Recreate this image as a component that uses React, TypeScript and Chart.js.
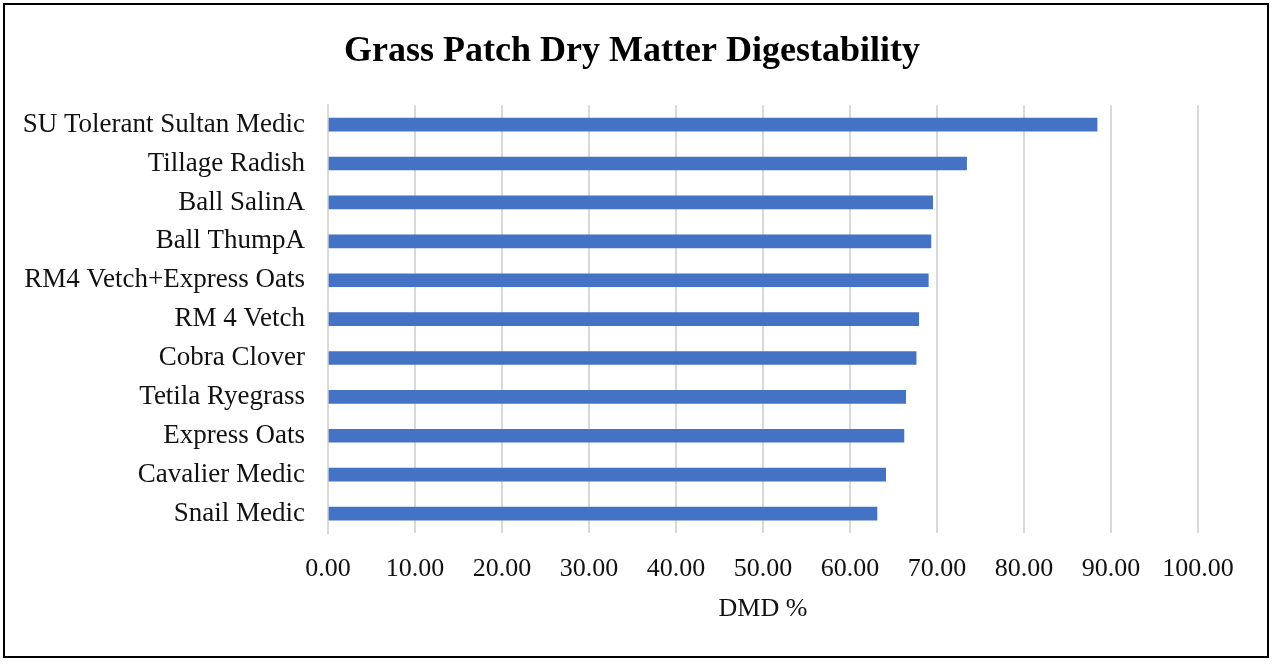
import React, { useEffect, useRef } from "react";
import { Chart, registerables } from "chart.js";

Chart.register(...registerables);

const categories = [
  "SU Tolerant Sultan Medic",
  "Tillage Radish",
  "Ball SalinA",
  "Ball ThumpA",
  "RM4 Vetch+Express Oats",
  "RM 4 Vetch",
  "Cobra Clover",
  "Tetila Ryegrass",
  "Express Oats",
  "Cavalier Medic",
  "Snail Medic",
];

const dmdValues = [88.4, 73.4, 69.5, 69.3, 69.0, 67.9, 67.6, 66.4, 66.2, 64.1, 63.1];

const chartTitle = "Grass Patch Dry Matter Digestability";
const xAxisTitle = "DMD %";

export default function App() {
  const canvasRef = useRef<HTMLCanvasElement | null>(null);

  useEffect(() => {
    document.body.style.margin = "0";
    const canvas = canvasRef.current;
    if (!canvas) return;
    const serif = "'Liberation Serif', 'Times New Roman', serif";
    const chart = new Chart(canvas, {
      type: "bar",
      data: {
        labels: categories,
        datasets: [
          {
            label: xAxisTitle,
            data: dmdValues,
            backgroundColor: "#4472C4",
            borderWidth: 0,
            barThickness: 13,
          },
        ],
      },
      options: {
        indexAxis: "y",
        animation: false,
        responsive: false,
        maintainAspectRatio: false,
        layout: { padding: { left: 0, right: 8, top: 0, bottom: 31 } },
        plugins: {
          legend: { display: false },
          tooltip: { enabled: false },
          title: {
            display: true,
            text: chartTitle,
            color: "#000",
            font: { family: serif, size: 36, weight: "bold" },
            padding: { top: 25, bottom: 32 },
          },
        },
        scales: {
          x: {
            min: 0,
            max: 100,
            ticks: {
              stepSize: 10,
              color: "#111",
              font: { family: serif, size: 26 },
              padding: 21,
              callback: (v: any) => Number(v).toFixed(2),
              maxRotation: 0,
            },
            grid: { color: "#d9d9d9", lineWidth: 2, drawTicks: false },
            border: { display: false },
            title: {
              display: true,
              text: xAxisTitle,
              color: "#111",
              font: { family: serif, size: 26 },
              padding: { top: 8, bottom: 0 },
            },
            afterFit: (scale: any) => {
              scale.height = 92;
              scale.paddingRight = 69;
            },
          },
          y: {
            ticks: {
              color: "#111",
              font: { family: serif, size: 27 },
              padding: 23,
              autoSkip: false,
            },
            grid: { display: false, drawTicks: false },
            border: { display: true, color: "#d9d9d9", width: 2 },
            afterFit: (scale: any) => {
              scale.width = 323;
            },
          },
        },
      },
    });
    return () => chart.destroy();
  }, []);

  return (
    <div
      style={{
        position: "absolute",
        left: 3,
        top: 3,
        width: 1266,
        height: 655,
        border: "2px solid #000",
        boxSizing: "border-box",
        background: "#fff",
      }}
    >
      <canvas ref={canvasRef} width={1262} height={651} style={{ display: "block" }} />
    </div>
  );
}
